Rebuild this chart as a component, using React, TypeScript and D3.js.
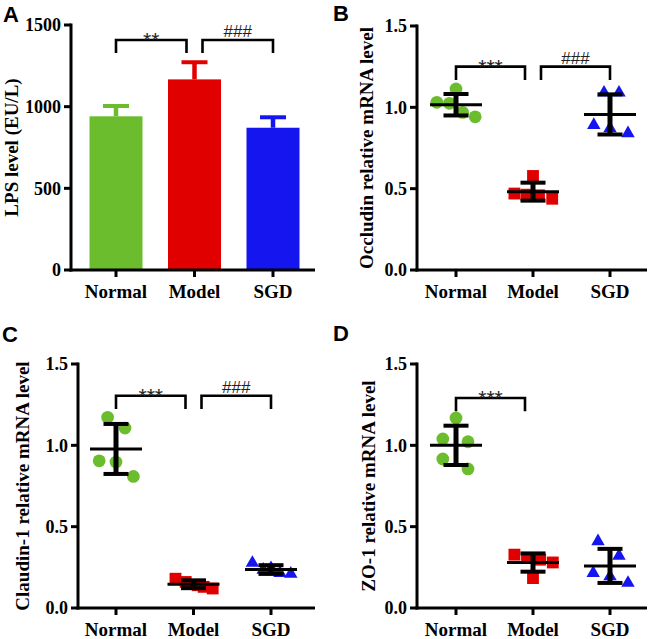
import React from "react";
import * as d3 from "d3";

// ---------- data ----------
const groups = ["Normal", "Model", "SGD"];
const groupColors = ["#6bbd2e", "#e00000", "#1515f0"];
const groupShapes = ["circle", "square", "triangle"];

// Panel A: LPS level (EU/L) — mean and upper error (SD)
const lpsMean = [941, 1167, 871];
const lpsErr = [63, 105, 64];
const lpsTicks = [0, 500, 1000, 1500];

// Panel B: Occludin relative mRNA level (individual values)
const occludinNormal = [1.031, 1.113, 1.025, 0.969, 0.942];
const occludinModel = [0.47, 0.578, 0.463, 0.459, 0.438];
const occludinSGD = [1.09, 1.09, 0.891, 0.871, 0.84];

// Panel C: Claudin-1 relative mRNA level
const claudinNormal = [1.172, 1.106, 0.905, 0.897, 0.809];
const claudinModel = [0.18, 0.16, 0.14, 0.13, 0.12];
const claudinSGD = [0.277, 0.235, 0.245, 0.215, 0.21];

// Panel D: ZO-1 relative mRNA level
const zo1Normal = [1.168, 1.039, 1.022, 0.916, 0.855];
const zo1Model = [0.328, 0.308, 0.297, 0.28, 0.184];
const zo1SGD = [0.41, 0.321, 0.215, 0.194, 0.154];

// dot-plot column slots (scatter spread, in marker half-widths)
const occludinSlots = [[-3.2, 0, -1.1, 1.1, 3.2], [-3.1, 0, -1.1, 1, 3.2], [-1, 1.5, -2.7, 0, 3]];
const claudinSlots = [[-1.4, 1.5, -2.8, 0, 2.9], [-3, -1.3, 0.7, 1.7, 3.2], [-3.1, -1.3, 0, 1.5, 3.3]];
const zo1Slots = [[0, -2.2, 2, -2.2, 2], [-3.1, -1, 1.2, 3.3, 0], [-2, 1.5, -2.8, 0, 3]];

const mrnaTicks = [0, 0.5, 1.0, 1.5];

// significance brackets: [from, to, label, top value, leg value]
const sigA = [["Normal", "Model", "**", 1408, 1329], ["Model", "SGD", "###", 1408, 1329]];
const sigB = [["Normal", "Model", "***", 1.25, 1.168], ["Model", "SGD", "###", 1.25, 1.168]];
const sigC = [["Normal", "Model", "***", 1.305, 1.223], ["Model", "SGD", "###", 1.305, 1.223]];
const sigD = [["Normal", "Model", "***", 1.291, 1.209]];

// ---------- styles ----------
const SERIF = "'Times New Roman', 'Liberation Serif', serif";
const SANS = "Arial, 'Liberation Sans', sans-serif";

type Layout = {
  x0: number; x1: number; c0: number; c1: number; yTop: number; yBot: number;
  labelX: number; letter: string; lx: number; ly: number;
};

function Frame({ L, y, ticks, fmt, ylabel, sig, children, x }: any) {
  const cy = (L.yTop + L.yBot) / 2;
  return (
    <g>
      <text x={L.lx} y={L.ly} fontFamily={SANS} fontWeight="bold" fontSize={22}>{L.letter}</text>
      {children}
      {/* axes */}
      <line x1={L.x0} x2={L.x0} y1={y(ticks[ticks.length - 1]) - 1.5} y2={L.yBot + 1.5} stroke="#000" strokeWidth={3} />
      <line x1={L.x0 - 1.5} x2={L.x1} y1={L.yBot} y2={L.yBot} stroke="#000" strokeWidth={3} />
      {ticks.map((t: number) => (
        <g key={t}>
          <line x1={L.x0 - 7} x2={L.x0} y1={y(t)} y2={y(t)} stroke="#000" strokeWidth={3} />
          <text x={L.x0 - 10} y={y(t)} dy="0.35em" textAnchor="end" fontFamily={SERIF} fontWeight="bold" fontSize={18}>{fmt(t)}</text>
        </g>
      ))}
      {groups.map((g) => (
        <g key={g}>
          <line x1={x(g)} x2={x(g)} y1={L.yBot} y2={L.yBot + 7} stroke="#000" strokeWidth={3} />
          <text x={x(g)} y={L.yBot + 28} textAnchor="middle" fontFamily={SERIF} fontWeight="bold" fontSize={19}>{g}</text>
        </g>
      ))}
      <text transform={`translate(${L.labelX},${cy}) rotate(-90)`} textAnchor="middle" fontFamily={SERIF} fontWeight="bold" fontSize={19}>{ylabel}</text>
      {sig.map((s: any, i: number) => {
        const a = s[0] === "Model" ? x(s[0]) + 8 : x(s[0]);
        const b = s[1] === "Model" ? x(s[1]) - 8 : x(s[1]);
        const top = y(s[3]);
        const leg = y(s[4]);
        const isStar = s[2].startsWith("*");
        return (
          <g key={i}>
            <path d={`M${a},${leg}V${top}H${b}V${leg}`} fill="none" stroke="#000" strokeWidth={2.6} />
            <text x={(a + b) / 2} y={isStar ? top + 7 : top - 3} textAnchor="middle" fontFamily={SANS} fontSize={isStar ? 21 : 17} fill="#222">{s[2]}</text>
          </g>
        );
      })}
    </g>
  );
}

function BarPanel({ L }: { L: Layout }) {
  const x = d3.scalePoint<string>().domain(groups).range([L.c0, L.c1]).padding(0);
  const y = d3.scaleLinear().domain([0, 1500]).range([L.yBot, L.yTop]);
  const bw = 53;
  return (
    <Frame L={L} x={x} y={y} ticks={lpsTicks} fmt={(t: number) => String(t)} ylabel="LPS level (EU/L)" sig={sigA}>
      {groups.map((g, i) => {
        const cx = x(g) as number;
        const top = y(lpsMean[i]);
        const et = y(lpsMean[i] + lpsErr[i]);
        return (
          <g key={g}>
            <line x1={cx} x2={cx} y1={top} y2={et} stroke={groupColors[i]} strokeWidth={4.5} />
            <line x1={cx - 13} x2={cx + 13} y1={et} y2={et} stroke={groupColors[i]} strokeWidth={4} />
            <rect x={cx - bw / 2} y={top} width={bw} height={L.yBot - top} fill={groupColors[i]} />
          </g>
        );
      })}
    </Frame>
  );
}

const symbolFor: any = {
  circle: d3.symbol(d3.symbolCircle, 128),
  square: d3.symbol(d3.symbolSquare, 140),
  triangle: d3.symbol(d3.symbolTriangle, 78),
};

function DotPanel({ L, data, slots, ylabel, sig }: any) {
  const x = d3.scalePoint<string>().domain(groups).range([L.c0, L.c1]).padding(0);
  const y = d3.scaleLinear().domain([0, 1.5]).range([L.yBot, L.yTop]);
  const unit = 6;
  return (
    <Frame L={L} x={x} y={y} ticks={mrnaTicks} fmt={d3.format(".1f")} ylabel={ylabel} sig={sig}>
      {groups.map((g, i) => {
        const cx = x(g) as number;
        const vals: number[] = data[i];
        return (
          <g key={g}>
            {vals.map((v, j) => (
              <path key={j} transform={`translate(${cx + slots[i][j] * unit},${y(v)})`} d={symbolFor[groupShapes[i]]()} fill={groupColors[i]} />
            ))}
          </g>
        );
      })}
      {groups.map((g, i) => {
        const cx = x(g) as number;
        const vals: number[] = data[i];
        const m = d3.mean(vals) as number;
        const sd = d3.deviation(vals) as number;
        return (
          <g key={g + "s"}>
            <line x1={cx} x2={cx} y1={y(m + sd)} y2={y(m - sd)} stroke="#000" strokeWidth={5} />
            <line x1={cx - 12.5} x2={cx + 12.5} y1={y(m + sd)} y2={y(m + sd)} stroke="#000" strokeWidth={4} />
            <line x1={cx - 12.5} x2={cx + 12.5} y1={y(m - sd)} y2={y(m - sd)} stroke="#000" strokeWidth={4} />
            <line x1={cx - 26} x2={cx + 26} y1={y(m)} y2={y(m)} stroke="#000" strokeWidth={3} />
          </g>
        );
      })}
    </Frame>
  );
}

const LA: Layout = { x0: 71, x1: 315, c0: 116, c1: 273, yTop: 25, yBot: 270, labelX: 18, letter: "A", lx: 3, ly: 22 };
const LB: Layout = { x0: 417, x1: 647, c0: 456, c1: 610, yTop: 26, yBot: 270, labelX: 373, letter: "B", lx: 333, ly: 21 };
const LC: Layout = { x0: 78, x1: 315, c0: 116, c1: 271, yTop: 364, yBot: 608, labelX: 29, letter: "C", lx: 2, ly: 342 };
const LD: Layout = { x0: 417, x1: 647, c0: 456, c1: 610, yTop: 364, yBot: 608, labelX: 375, letter: "D", lx: 333, ly: 341 };

export default function App() {
  return (
    <svg width={654} height={639} style={{ position: "absolute", left: 0, top: 0, background: "#fff" }}>
      <BarPanel L={LA} />
      <DotPanel L={LB} data={[occludinNormal, occludinModel, occludinSGD]} slots={occludinSlots} ylabel="Occludin relative mRNA level" sig={sigB} />
      <DotPanel L={LC} data={[claudinNormal, claudinModel, claudinSGD]} slots={claudinSlots} ylabel="Claudin-1 relative mRNA level" sig={sigC} />
      <DotPanel L={LD} data={[zo1Normal, zo1Model, zo1SGD]} slots={zo1Slots} ylabel="ZO-1 relative mRNA level" sig={sigD} />
    </svg>
  );
}
